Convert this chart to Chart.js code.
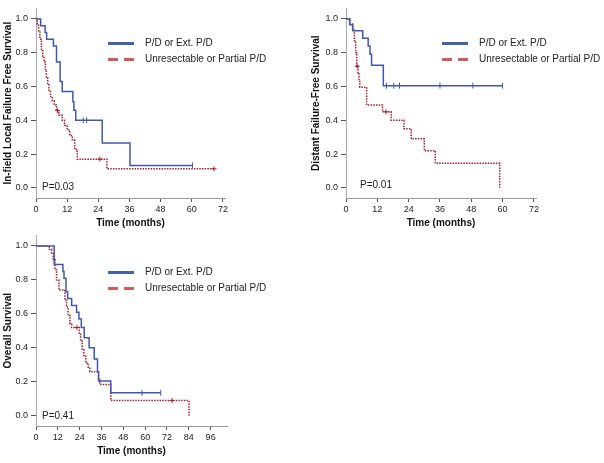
<!DOCTYPE html>
<html>
<head>
<meta charset="utf-8">
<script src="https://cdn.jsdelivr.net/npm/chart.js@4.4.1/dist/chart.umd.min.js"></script>
<style>
  body { margin: 0; background: #fff; width: 604px; height: 463px; position: relative; overflow: hidden; font-family: "Liberation Sans", Arial, sans-serif; }
  canvas { position: absolute; }
  .leg { position: absolute; font-size: 10px; color: #222; white-space: nowrap; }
  .leg .row { position: absolute; left: 0; height: 12px; line-height: 12px; }
  .leg .sw { position: absolute; height: 3px; }
  .leg .txt { position: absolute; }
  .pval { position: absolute; font-size: 10px; line-height: 12px; color: #222; }
</style>
</head>
<body>
<canvas id="c1" width="300" height="235" style="left:0;top:0"></canvas>
<canvas id="c2" width="296" height="235" style="left:308px;top:0"></canvas>
<canvas id="c3" width="300" height="236" style="left:0;top:227px"></canvas>
<script>
const seriesNames = ['P/D or Ext. P/D', 'Unresectable or Partial P/D'];
const pValues = ['P=0.03', 'P=0.01', 'P=0.41'];
const yTitles = ['In-field Local Failure Free Survival', 'Distant Failure-Free Survival', 'Overall Survival'];
const yTicks = [0, 0.2, 0.4, 0.6, 0.8, 1.0];
const xTicks72 = [0, 12, 24, 36, 48, 60, 72];
const xTicks96 = [0, 12, 24, 36, 48, 60, 72, 84, 96];

// in-field local failure free survival
const lfBlueT = [0, 1.8, 3.5, 4.1, 6.7, 7.9, 9.3, 10.1, 14.2, 14.6, 15.3, 25.5, 36.2, 60.3];
const lfBlueS = [1, 0.96, 0.92, 0.88, 0.84, 0.745, 0.63, 0.57, 0.51, 0.46, 0.40, 0.265, 0.133, 0.133];
const lfBlueCens = [18.2, 19.5, 60.3];
const lfRedT = [0, 0.5, 1.0, 1.5, 2.1, 2.6, 3.1, 3.6, 4.0, 4.5, 5.0, 5.6, 6.3, 7.0, 7.9, 8.8, 10.1, 11.0, 12.0, 13.0, 14.0, 14.9, 15.9, 27.3, 68.6];
const lfRedS = [1, 0.97, 0.93, 0.88, 0.82, 0.78, 0.745, 0.70, 0.65, 0.61, 0.57, 0.54, 0.515, 0.49, 0.457, 0.43, 0.40, 0.37, 0.342, 0.31, 0.285, 0.227, 0.17, 0.113, 0.113];
const lfRedCens = [8.3, 24.6, 68.6];

// distant failure-free survival
const dfBlueT = [0, 1.4, 2.6, 6.4, 8.5, 9.2, 9.8, 14.3, 60];
const dfBlueS = [1, 0.965, 0.93, 0.885, 0.84, 0.79, 0.725, 0.605, 0.605];
const dfBlueCens = [15.5, 18.3, 20.5, 36, 48.6, 60];
const dfRedT = [0, 1.5, 2.5, 3.2, 3.7, 4.1, 4.6, 5.0, 5.3, 7.9, 14.0, 17.3, 22.2, 25.0, 30.0, 34.2, 58.9];
const dfRedS = [1, 0.97, 0.94, 0.87, 0.80, 0.72, 0.68, 0.63, 0.595, 0.49, 0.45, 0.40, 0.35, 0.29, 0.22, 0.145, 0.0];
const dfRedCens = [4.3, 15.3];

// overall survival
const osBlueT = [0, 10.0, 14.8, 15.4, 16.5, 17.4, 19.6, 22.3, 23.6, 24.9, 26.5, 29.2, 32.0, 33.8, 34.4, 41.1, 68.6];
const osBlueS = [1, 0.89, 0.85, 0.81, 0.73, 0.69, 0.65, 0.61, 0.57, 0.52, 0.46, 0.40, 0.335, 0.26, 0.205, 0.135, 0.135];
const osBlueCens = [58.3, 68.6];
const osRedT = [0, 7.3, 8.6, 9.5, 10.4, 11.3, 12.6, 15.9, 16.8, 17.7, 18.7, 19.6, 23.8, 24.5, 25.4, 26.3, 27.4, 28.7, 29.6, 34.4, 35.1, 41.1, 84.1];
const osRedS = [1, 0.98, 0.96, 0.92, 0.86, 0.80, 0.74, 0.68, 0.64, 0.59, 0.54, 0.52, 0.48, 0.44, 0.39, 0.35, 0.31, 0.28, 0.26, 0.22, 0.185, 0.09, 0.0];
const osRedCens = [22.5, 74.8];

const BLUE = '#4058aa';
const RED = '#a3202e';

function pts(times, surv) {
    return times.map((t, i) => ({ x: t, y: surv[i] }));
}

function survAt(times, surv, t) {
    let s = surv[0];
    for (let i = 0; i < times.length; i++) {
        if (times[i] <= t) s = surv[i];
    }
    return s;
}

function cens(times, surv, cts) {
    return cts.map(t => ({ x: t, y: survAt(times, surv, t) }));
}

function makeChart(id, o) {
    new Chart(document.getElementById(id), { // eslint-disable-line
        type: 'scatter',
        data: {
            datasets: [
                { data: pts(o.bT, o.bS), showLine: true, stepped: true, borderColor: BLUE, borderWidth: 1.5, pointRadius: 0 },
                { data: pts(o.rT, o.rS), showLine: true, stepped: true, borderColor: RED, borderWidth: 1.5, borderDash: [1.5, 1.2], pointRadius: 0 },
                { data: cens(o.bT, o.bS, o.bC), pointStyle: 'line', pointRotation: 90, pointRadius: 3, borderColor: BLUE, pointBorderWidth: 1 },
                { data: cens(o.rT, o.rS, o.rC), pointStyle: 'cross', pointRadius: 2.5, borderColor: RED, pointBorderWidth: 1 }
            ]
        },
        options: {
            responsive: false,
            animation: false,
            layout: { padding: { top: 3, right: o.padRight, left: 0, bottom: 0 } },
            plugins: { legend: { display: false }, tooltip: { enabled: false } },
            scales: {
                x: {
                    type: 'linear',
                    min: 0,
                    max: o.xMax,
                    afterBuildTicks: s => { s.ticks = o.xTicks.map(v => ({ value: v })); },
                    afterFit: s => { s.height = 37; },
                    grid: { drawOnChartArea: false, tickLength: 4, color: '#555' },
                    border: { color: '#999' },
                    ticks: { font: { size: 9, family: 'Liberation Sans' }, color: '#222', padding: 2, maxRotation: 0, autoSkip: false },
                    title: { display: true, text: 'Time (months)', color: '#111', font: { size: 10, weight: 'bold', family: 'Liberation Sans' }, padding: { top: 0, bottom: 6 } }
                },
                y: {
                    min: -0.06,
                    max: 1.062,
                    afterBuildTicks: s => { s.ticks = yTicks.map(v => ({ value: v })); },
                    afterFit: s => { s.width = o.yWidth; },
                    grid: { drawOnChartArea: false, tickLength: 5, color: '#555' },
                    border: { color: '#aaa' },
                    ticks: { font: { size: 9, family: 'Liberation Sans' }, color: '#222', padding: 3, callback: v => v.toFixed(1) },
                    title: { display: true, text: o.yTitle, color: '#111', font: { size: 10, weight: 'bold', family: 'Liberation Sans' }, padding: { top: 2, bottom: 0 } }
                }
            }
        }
    });
}

makeChart('c1', { bT: lfBlueT, bS: lfBlueS, bC: lfBlueCens, rT: lfRedT, rS: lfRedS, rC: lfRedCens,
    xMax: 72.8, xTicks: xTicks72, yWidth: 36, padRight: 75, yTitle: yTitles[0] });
makeChart('c2', { bT: dfBlueT, bS: dfBlueS, bC: dfBlueCens, rT: dfRedT, rS: dfRedS, rC: dfRedCens,
    xMax: 72.8, xTicks: xTicks72, yWidth: 38, padRight: 68, yTitle: yTitles[1] });
makeChart('c3', { bT: osBlueT, bS: osBlueS, bC: osBlueCens, rT: osRedT, rS: osRedS, rC: osRedCens,
    xMax: 105, xTicks: xTicks96, yWidth: 36, padRight: 73, yTitle: yTitles[2] });

// legends and p-values as html text
const legendSpots = [[108, 37], [442, 37], [108, 266]];
legendSpots.forEach(([lx, ly]) => {
    const leg = document.createElement('div');
    leg.className = 'leg';
    leg.style.left = lx + 'px';
    leg.style.top = ly + 'px';
    seriesNames.forEach((name, i) => {
        const row = document.createElement('div');
        row.className = 'row';
        row.style.top = (i * 16) + 'px';
        if (i === 0) {
            row.innerHTML = '<span class="sw" style="left:0;top:5px;width:26px;background:#3f64a8"></span>';
        } else {
            row.innerHTML = '<span class="sw" style="left:0;top:5px;width:10px;background:#d35a5a"></span>' +
                '<span class="sw" style="left:16px;top:5px;width:10px;background:#d35a5a"></span>';
        }
        row.innerHTML += '<span class="txt" style="left:37px;top:0">' + name + '</span>';
        leg.append(row);
    });
    document.body.append(leg);
});

const pSpots = [[42, 181], [360, 179], [42, 410]];
pSpots.forEach(([px, py], i) => {
    const p = document.createElement('div');
    p.className = 'pval';
    p.style.left = px + 'px';
    p.style.top = py + 'px';
    p.textContent = pValues[i];
    document.body.append(p);
});
</script>
</body>
</html>
